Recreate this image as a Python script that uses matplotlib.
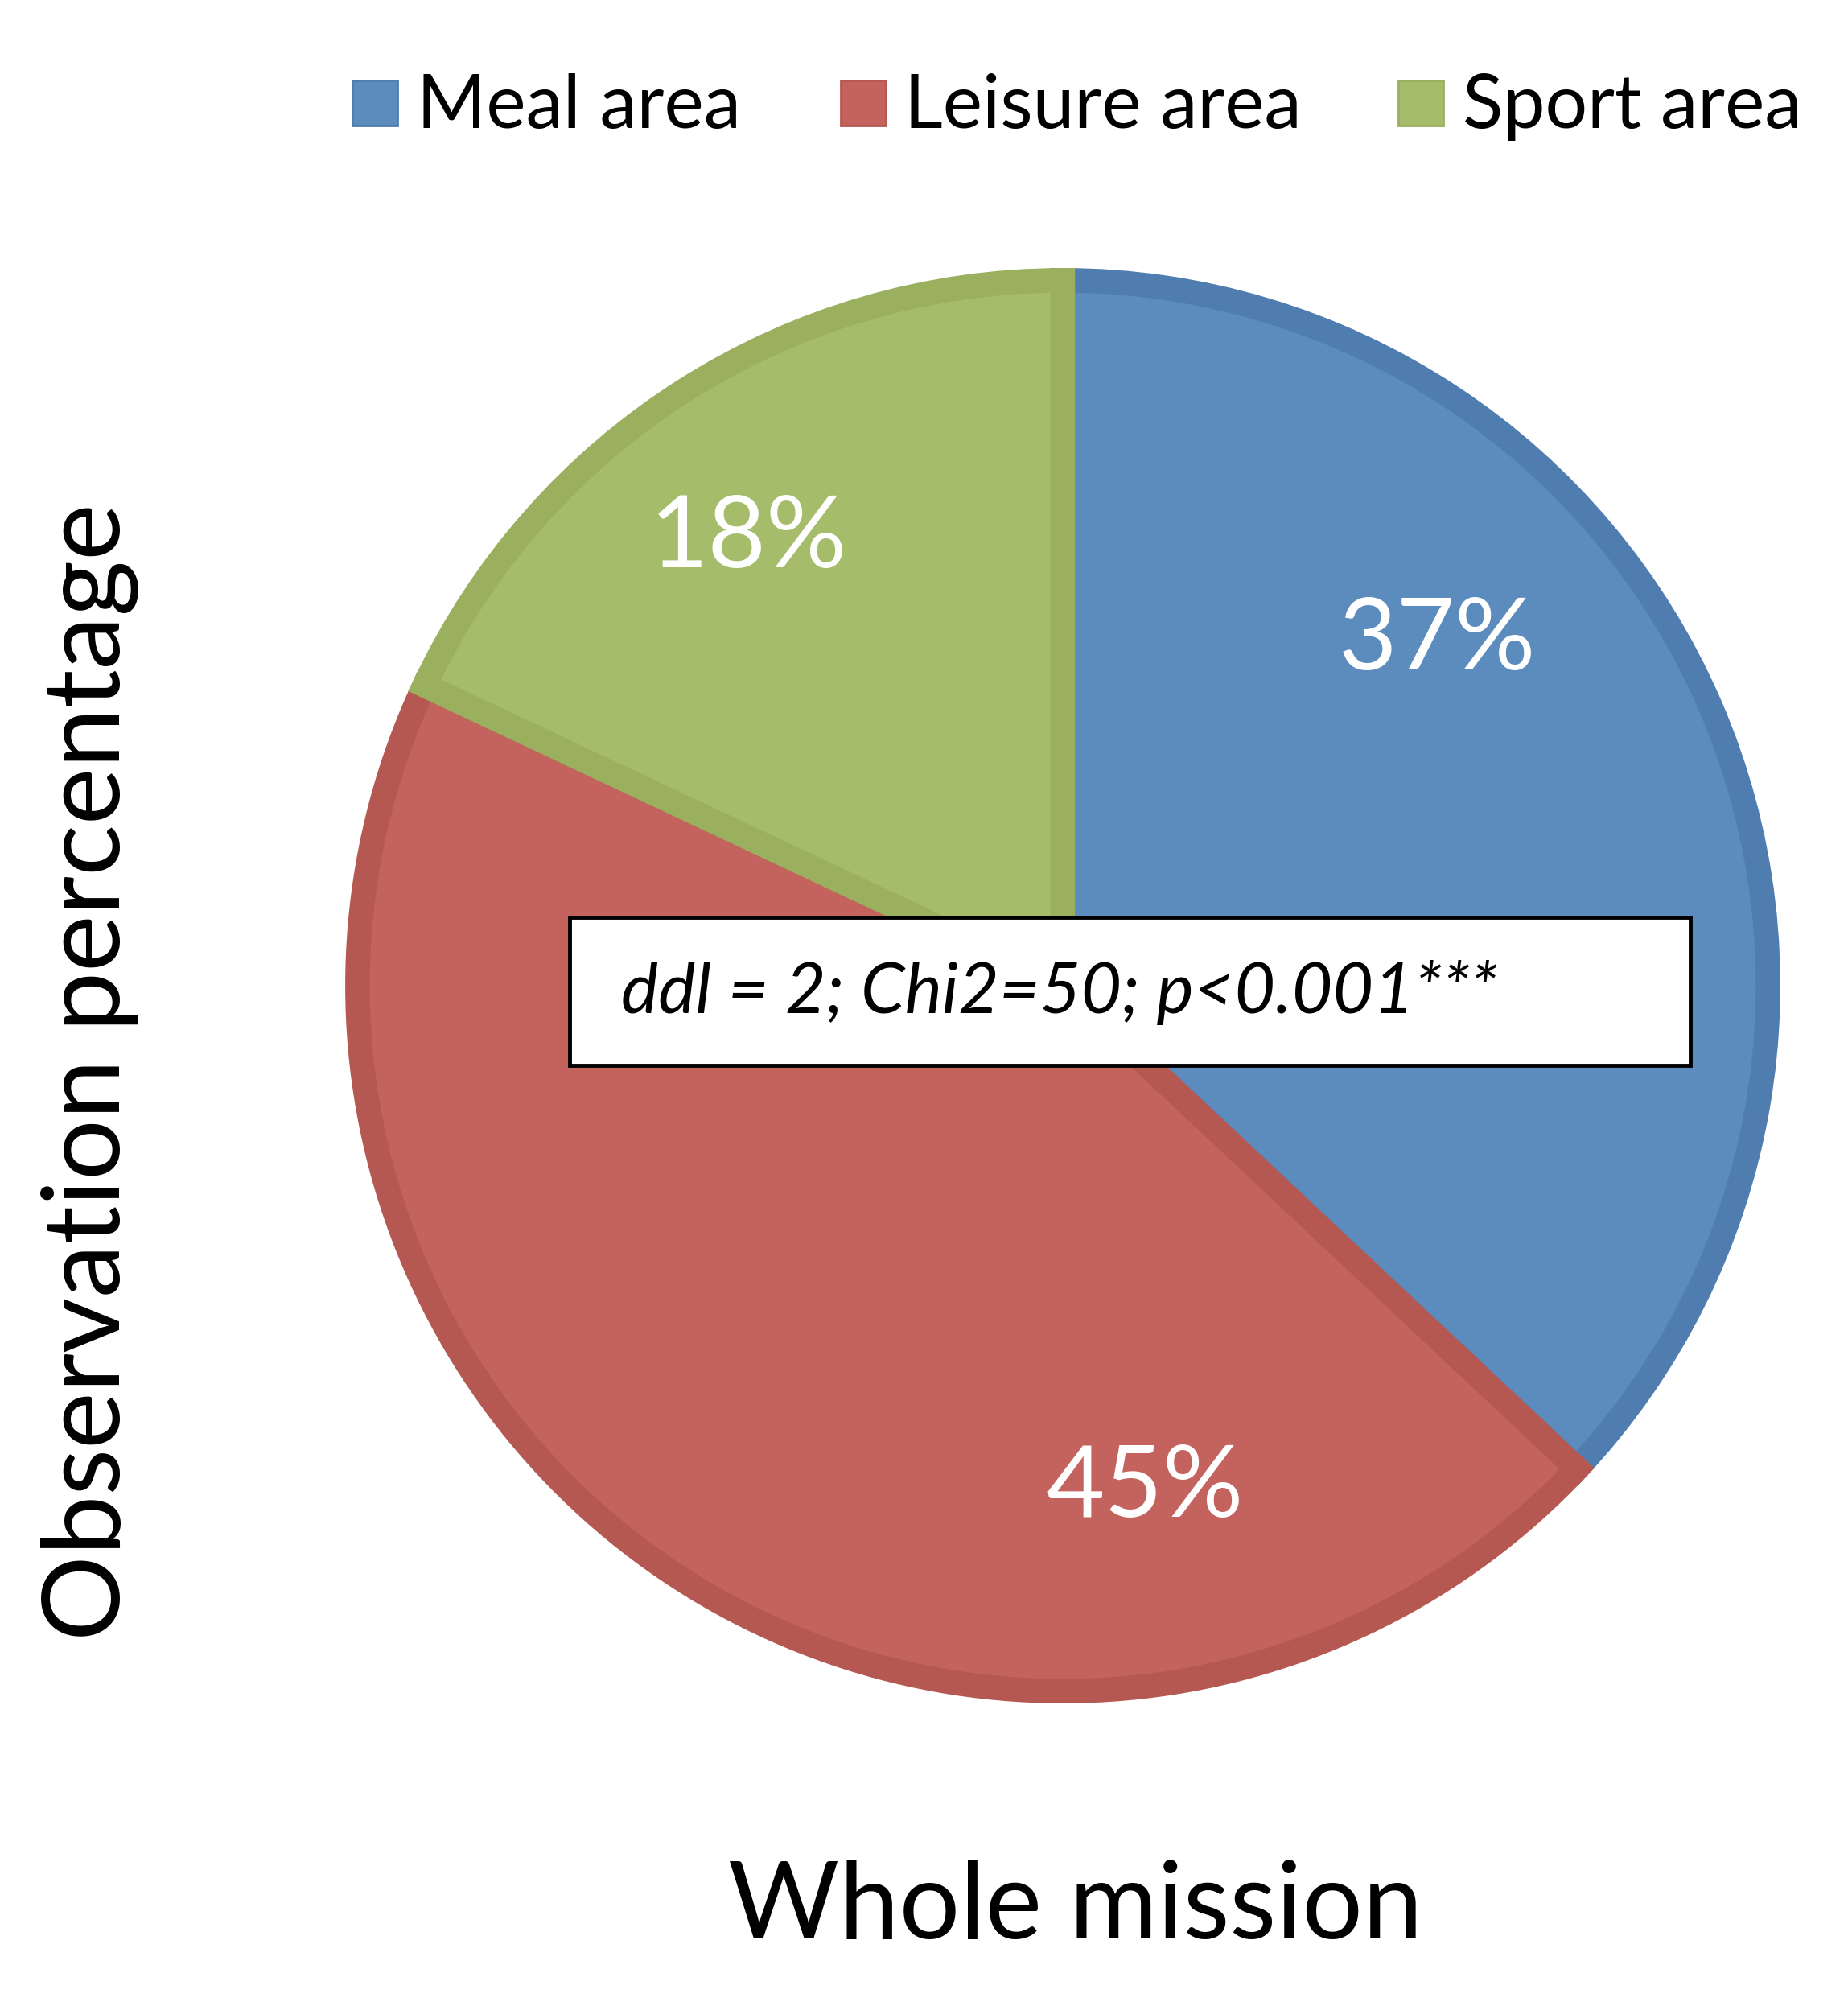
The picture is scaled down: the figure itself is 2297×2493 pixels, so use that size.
import matplotlib
matplotlib.use("Agg")
import matplotlib.pyplot as plt
from matplotlib.patches import Rectangle

categories = ["Meal area", "Leisure area", "Sport area"]
values = [37, 45, 18]
labels = ["37%", "45%", "18%"]
fills = ["#5B8CBD", "#C4635D", "#A5BC6A"]
edges = ["#4F7DB0", "#B65852", "#9AB05F"]
stat_text = "ddl = 2; Chi2=50; p<0.001***"

plt.rcParams['font.family'] = ['Lato', 'DejaVu Sans']
W, H = 2297, 2493
fig = plt.figure(figsize=(W/100, H/100), dpi=100)

cx, cy, r = 1321, 1225, 890
ax = fig.add_axes([(cx-r)/W, 1-(cy+r)/H, 2*r/W, 2*r/H])
wedges, _ = ax.pie(values, colors=fills, startangle=90, counterclock=False, radius=0.985,
                   wedgeprops=dict(linewidth=22, joinstyle='miter'))
for w, e in zip(wedges, edges):
    w.set_edgecolor(e)
ax.set_aspect('auto')
ax.set_xlim(-1, 1); ax.set_ylim(-1, 1); ax.axis('off')

def ftext(x, y, s, **kw):
    kw.setdefault('zorder', 10)
    fig.text(x/W, 1-y/H, s, **kw)

label_pos = [(1786, 797), (1423, 1850), (930, 670)]
for (x, y), s in zip(label_pos, labels):
    ftext(x, y, s, color='white', fontsize=90, ha='center', va='center')

# stats box
bx0, by0, bx1, by1 = 708, 1140, 2101, 1324
fig.patches.append(Rectangle((bx0/W, 1-by1/H), (bx1-bx0)/W, (by1-by0)/H, transform=fig.transFigure,
                             facecolor='white', edgecolor='black', linewidth=3.5, zorder=8))
ftext(772, 1234, stat_text, fontsize=63, style='italic', ha='left', va='center', zorder=11)

# legend
leg = [(438, 518), (1045, 1124), (1738, 1818)]
for (sx, tx), c, e, name in zip(leg, fills, edges, categories):
    fig.patches.append(Rectangle((sx/W, 1-(128+28)/H), 56/W, 56/H, transform=fig.transFigure,
                                 facecolor=c, edgecolor=e, linewidth=2))
    ftext(tx, 133, name, fontsize=67, ha='left', va='center')

ftext(1337, 2372, "Whole mission", fontsize=96, ha='center', va='center')
ftext(112, 1332, "Observation percentage", fontsize=96, ha='center', va='center', rotation=90)

fig.savefig("out.png", dpi=100, facecolor='white')
